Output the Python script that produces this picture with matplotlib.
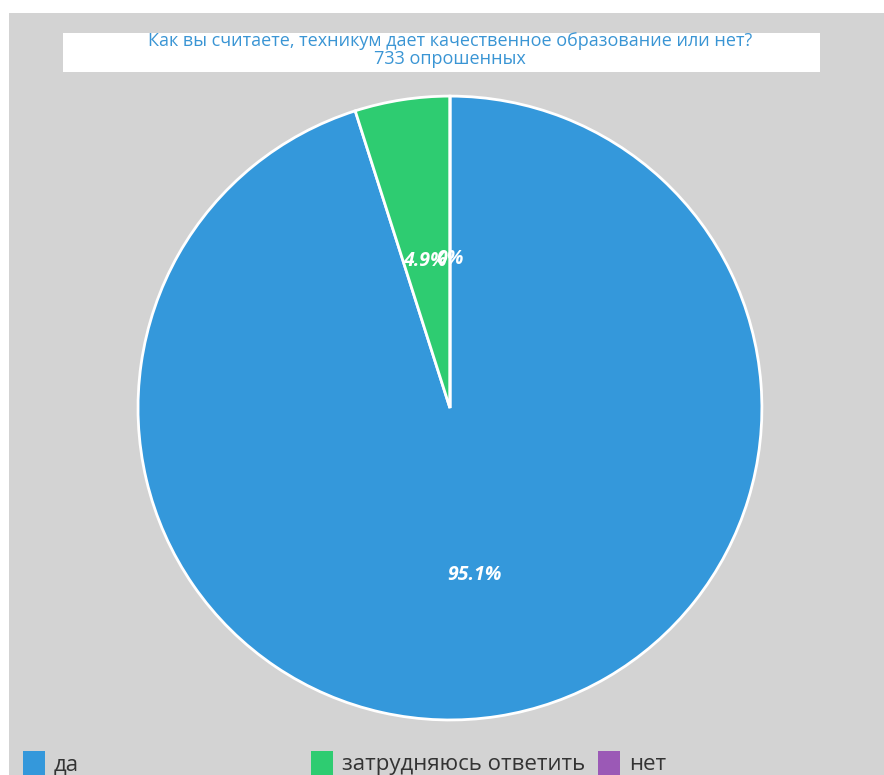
import matplotlib.pyplot as plt
from matplotlib.patches import Rectangle

# survey data
labels = ["да", "затрудняюсь ответить", "нет"]
counts = [697, 36, 0]
colors = ["#3498db", "#2ecc71", "#9b59b6"]
total = 733

plt.rcParams['font.family'] = ['Open Sans', 'DejaVu Sans']

fig = plt.figure(figsize=(8.84, 7.75), dpi=100)
fig.patch.set_facecolor("white")

# gray panel and white title box
fig.patches.append(Rectangle((9 / 884, 0), 1, 1 - 13 / 775, transform=fig.transFigure,
                             facecolor="#d3d3d3", edgecolor="none", zorder=-2))
fig.patches.append(Rectangle((63 / 884, 1 - 72 / 775), 757 / 884, 39 / 775, transform=fig.transFigure,
                             facecolor="white", edgecolor="none", zorder=-1))
fig.text(450 / 884, 1 - 41 / 775, "Как вы считаете, техникум дает качественное образование или нет?",
         ha="center", va="center", color="#3a95d4", fontsize=13)
fig.text(450 / 884, 1 - 59 / 775, f"{total} опрошенных",
         ha="center", va="center", color="#3a95d4", fontsize=13)

ax = fig.add_axes([0.156, 0.071, 0.706, 0.805])
ax.set_facecolor("none")

def fmt(p):
    return f"{p:.1f}%" if p > 0 else "0%"

wedges, texts, autotexts = ax.pie(counts, colors=colors, startangle=90, counterclock=False,
                                  autopct=fmt, pctdistance=0.51,
                                  wedgeprops=dict(edgecolor="white", linewidth=2))
for t in autotexts:
    t.set_color("white")
    t.set_fontsize(14)
    t.set_fontstyle("italic")
    t.set_fontweight("bold")
    t.set_va("top")
ax.set_xlim(-1.0, 1.0)
ax.set_ylim(-1.0, 1.0)
ax.set_aspect("equal")

# legend entries placed like the original
legend_x = [23 / 884, 311 / 884, 598 / 884]
for w, lab, x in zip(wedges, labels, legend_x):
    fig.legend([Rectangle((0, 0), 1, 1, facecolor=w.get_facecolor(), edgecolor="none")], [lab],
               loc="center left", bbox_to_anchor=(x, 1 - 763 / 775), frameon=False,
               fontsize=16, handlelength=1.0, handleheight=1.3, handletextpad=0.4,
               borderaxespad=0, borderpad=0, labelcolor="#333333")

fig.savefig("out.png", dpi=100, facecolor=fig.get_facecolor())
